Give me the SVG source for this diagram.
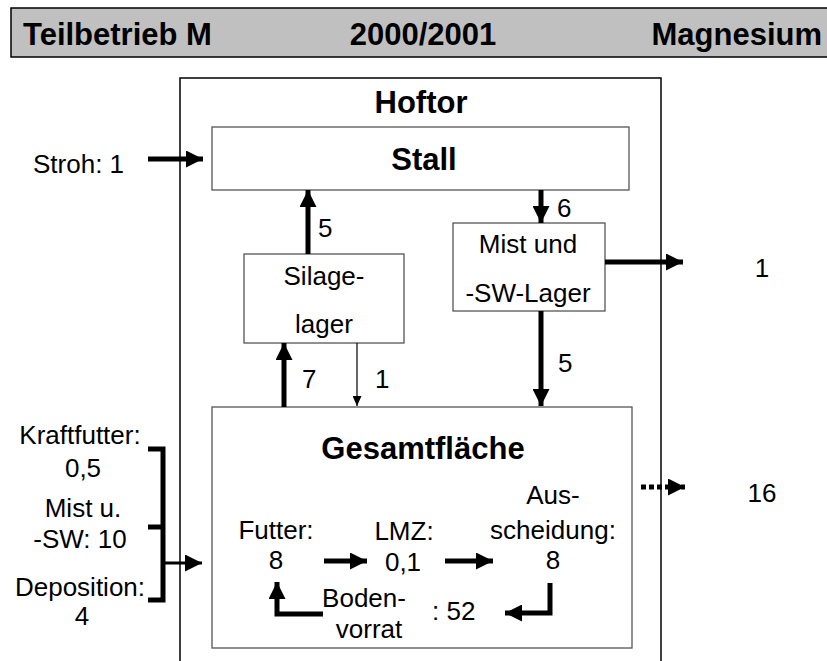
<svg xmlns="http://www.w3.org/2000/svg" width="827" height="661" viewBox="0 0 827 661">
<style>
text{font-family:"Liberation Sans",Arial,sans-serif;fill:#000}
.b{font-weight:bold;font-size:31px}
.r{font-size:26px}
.box{fill:#fff;stroke:#555;stroke-width:1.3}
.thick{stroke:#000;stroke-width:5;fill:none}
</style>
<defs>
<marker id="ah" viewBox="0 0 17 17" markerWidth="17" markerHeight="17" refX="17" refY="8.5" orient="auto" markerUnits="userSpaceOnUse"><path d="M0,0L17,8.5L0,17z" fill="#000"/></marker>
<marker id="as" viewBox="0 0 10 9" markerWidth="10" markerHeight="9" refX="10" refY="4.5" orient="auto" markerUnits="userSpaceOnUse"><path d="M0,0L10,4.5L0,9z" fill="#000"/></marker>
</defs>
<rect width="827" height="661" fill="#fff"/>
<g id="header">
<rect x="11" y="8" width="830" height="49" fill="#c0c0c0" stroke="#000" stroke-width="1.5"/>
<text class="b" x="23" y="45">Teilbetrieb M</text>
<text class="b" x="423" y="45" text-anchor="middle">2000/2001</text>
<text class="b" x="822" y="45" text-anchor="end">Magnesium</text>
</g>
<g id="hoftor">
<rect x="180" y="78" width="481" height="620" fill="none" stroke="#000" stroke-width="1.5"/>
<text class="b" x="421" y="113" text-anchor="middle">Hoftor</text>
</g>
<g id="stall">
<rect class="box" x="212" y="127" width="417" height="63"/>
<text class="b" x="424" y="170" text-anchor="middle">Stall</text>
</g>
<g id="silagelager">
<rect class="box" x="244" y="254" width="160" height="89"/>
<text class="r" x="324" y="285" text-anchor="middle">Silage-</text>
<text class="r" x="324" y="333" text-anchor="middle">lager</text>
</g>
<g id="mistlager">
<rect class="box" x="453" y="223" width="152" height="88"/>
<text class="r" x="528" y="253" text-anchor="middle">Mist und</text>
<text class="r" x="528" y="302" text-anchor="middle">-SW-Lager</text>
</g>
<g id="gesamtflaeche">
<rect class="box" x="212" y="407" width="420" height="241"/>
<text class="b" x="423" y="459" text-anchor="middle">Gesamtfläche</text>
<text class="r" x="276" y="539" text-anchor="middle">Futter:</text>
<text class="r" x="276" y="569" text-anchor="middle">8</text>
<text class="r" x="404" y="540" text-anchor="middle">LMZ:</text>
<text class="r" x="403" y="571" text-anchor="middle">0,1</text>
<text class="r" x="553" y="504" text-anchor="middle">Aus-</text>
<text class="r" x="553" y="539" text-anchor="middle">scheidung:</text>
<text class="r" x="553" y="569" text-anchor="middle">8</text>
<text class="r" x="364" y="607" text-anchor="middle">Boden-</text>
<text class="r" x="369" y="638" text-anchor="middle">vorrat</text>
<text class="r" x="432" y="620">: 52</text>
</g>
<g id="inputs">
<text class="r" x="33" y="173">Stroh: 1</text>
<text class="r" x="80" y="444" text-anchor="middle">Kraftfutter:</text>
<text class="r" x="83" y="477" text-anchor="middle">0,5</text>
<text class="r" x="83" y="517" text-anchor="middle">Mist u.</text>
<text class="r" x="80" y="548" text-anchor="middle">-SW: 10</text>
<text class="r" x="80" y="596" text-anchor="middle">Deposition:</text>
<text class="r" x="82" y="625" text-anchor="middle">4</text>
</g>
<g id="outputs">
<text class="r" x="762" y="277" text-anchor="middle">1</text>
<text class="r" x="762" y="502" text-anchor="middle">16</text>
</g>
<g id="connectors">
<line class="thick" x1="148" y1="159" x2="203" y2="159" marker-end="url(#ah)"/>
<line class="thick" x1="308" y1="254" x2="308" y2="190" marker-end="url(#ah)"/>
<text class="r" x="318" y="237">5</text>
<line class="thick" x1="541" y1="190" x2="541" y2="223" marker-end="url(#ah)"/>
<text class="r" x="557" y="217">6</text>
<line class="thick" x1="605" y1="262" x2="683" y2="262" marker-end="url(#ah)"/>
<line class="thick" x1="541" y1="311" x2="541" y2="406" marker-end="url(#ah)"/>
<text class="r" x="558" y="372">5</text>
<line class="thick" x1="284" y1="407" x2="284" y2="343" marker-end="url(#ah)"/>
<text class="r" x="302" y="388">7</text>
<line x1="357" y1="343" x2="357" y2="406" stroke="#000" stroke-width="1.2" marker-end="url(#as)"/>
<text class="r" x="375" y="388">1</text>
<line class="thick" x1="641" y1="487" x2="685" y2="487" stroke-dasharray="5,3" marker-end="url(#ah)"/>
<polyline class="thick" points="148,449 163,449 163,600 148,600"/>
<line class="thick" x1="148" y1="527" x2="163" y2="527"/>
<line x1="163" y1="563" x2="202" y2="563" stroke="#000" stroke-width="3" marker-end="url(#ah)"/>
<line class="thick" x1="324" y1="561" x2="367" y2="561" marker-end="url(#ah)"/>
<line class="thick" x1="445" y1="561" x2="493" y2="561" marker-end="url(#ah)"/>
<polyline class="thick" points="550,583 550,613 505,613" marker-end="url(#ah)"/>
<polyline class="thick" points="323,614 277,614 277,582" marker-end="url(#ah)"/>
</g>
</svg>
